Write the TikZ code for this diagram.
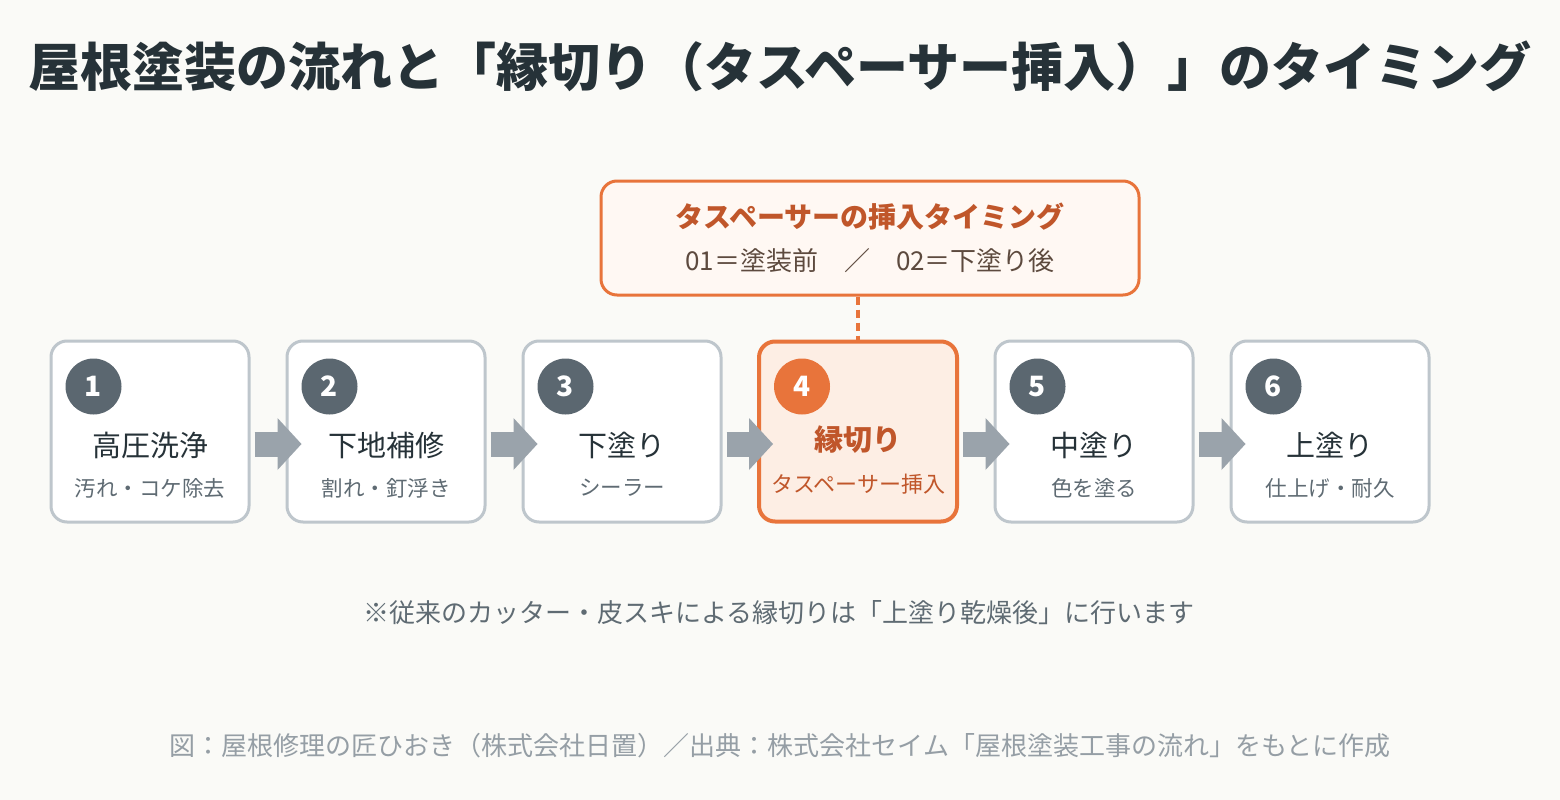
\documentclass[tikz,border=0pt]{standalone}
\usepackage{fontspec}
\setmainfont{Noto Sans CJK JP}
\usetikzlibrary{arrows.meta,positioning,calc}
\definecolor{ink}{HTML}{263238}
\definecolor{slate}{HTML}{5B6770}
\definecolor{subgray}{HTML}{5F6B73}
\definecolor{srcgray}{HTML}{959EA5}
\definecolor{edgegray}{HTML}{BEC6CC}
\definecolor{arrowgray}{HTML}{9AA3AB}
\definecolor{accent}{HTML}{E8743B}
\definecolor{accentdark}{HTML}{C0562A}
\definecolor{accentfill}{HTML}{FDEEE4}
\definecolor{notefill}{HTML}{FFF8F3}
\definecolor{notetext}{HTML}{5D4A3E}
\definecolor{paper}{HTML}{FAFAF7}
\newcommand\fsz[1]{\fontsize{#1}{#1}\selectfont}

\begin{document}
\begin{tikzpicture}[x=1pt,y=-1pt,
  stepbox/.style={draw=edgegray,fill=white,line width=3pt,rounded corners=16pt,minimum width=198pt,minimum height=181pt},
  keybox/.style={draw=accent,fill=accentfill,line width=4pt,rounded corners=16pt,minimum width=198pt,minimum height=180pt},
  badge/.style={circle,fill=slate,text=white,minimum size=56pt,inner sep=0pt,font=\fsz{28}\bfseries},
  steptitle/.style={text=ink,font=\fsz{29}},
  stepsub/.style={text=subgray,font=\fsz{21.5}},
  flowarrow/.style={arrowgray,line width=25pt,shorten <=4pt,shorten >=-16pt,-{Triangle[length=24pt,width=52pt,line width=0pt]}}]
  \fill[paper] (0,0) rectangle (1560,800);
  \useasboundingbox (0,0) rectangle (1560,800);
  \node[text=ink,font=\fsz{52}\bfseries] (title) at (780,66) {屋根塗装の流れと「縁切り（タスペーサー挿入）」のタイミング};
  \foreach \i/\main/\sub in {1/高圧洗浄/汚れ・コケ除去,2/下地補修/割れ・釘浮き,3/下塗り/シーラー,5/中塗り/色を塗る,6/上塗り/仕上げ・耐久}{
    \node[stepbox] (s\i) at ({150+(\i-1)*236},431.5) {};
    \node[badge] (b\i) at ($(s\i.north west)+(44,47)$) {\i};
    \node[steptitle] (t\i) at ({150+(\i-1)*236},445) {\main};
    \node[stepsub] (u\i) at ({150+(\i-1)*236},488) {\sub};
  }
  \node[keybox] (s4) at (858,431.5) {};
  \node[badge,fill=accent] (b4) at ($(s4.north west)+(45,47)$) {4};
  \node[text=accentdark,font=\fsz{29}\bfseries] (t4) at (858,440) {縁切り};
  \node[text=accentdark,font=\fsz{22}] (u4) at (858,484) {タスペーサー挿入};
  \foreach \i/\j in {1/2,2/3,3/4,4/5,5/6}
    \draw[flowarrow] ($(s\i.east)+(0,12.5)$) -- ($(s\j.west)+(0,12.5)$);
  \node[draw=accent,fill=notefill,line width=3pt,rounded corners=16pt,minimum width=538pt,minimum height=114pt] (note) at (870,238) {};
  \node[text=accentdark,font=\fsz{28}\bfseries] (nhead) at (870,217) {タスペーサーの挿入タイミング};
  \node[text=notetext,font=\fsz{26}] (nline) at (870,261) {01＝塗装前　／　02＝下塗り後};
  \draw[accent,line width=4pt,dash pattern=on 8pt off 5pt] (s4.north |- note.south) -- (s4.north);
  \node[text=subgray,font=\fsz{26}] (memo) at (779,613) {※従来のカッター・皮スキによる縁切りは「上塗り乾燥後」に行います};
  \node[text=srcgray,font=\fsz{26}] (source) at (780,746) {図：屋根修理の匠ひおき（株式会社日置）／出典：株式会社セイム「屋根塗装工事の流れ」をもとに作成};
\end{tikzpicture}
\end{document}
